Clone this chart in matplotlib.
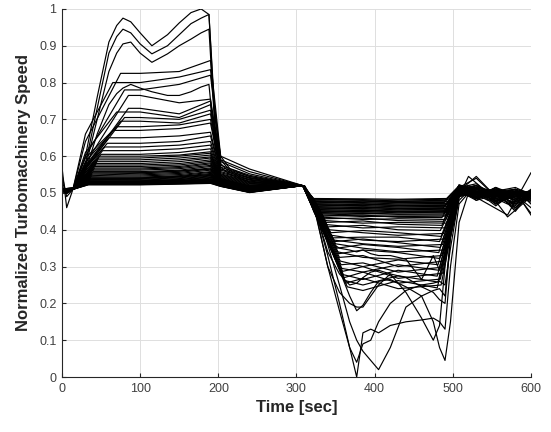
import matplotlib.pyplot as plt

plt.rcParams['font.family'] = ['Liberation Sans', 'DejaVu Sans']

# ---------------- band runs ----------------
# phase 1 (speed-up), values per run
start0 = [0.510, 0.512, 0.508, 0.510, 0.515, 0.570, 0.510, 0.505, 0.512, 0.510,
          0.508, 0.510, 0.550, 0.512, 0.510, 0.505, 0.510, 0.512, 0.508, 0.510,
          0.515, 0.510, 0.508, 0.512, 0.510, 0.505, 0.510, 0.512, 0.510, 0.508,
          0.530, 0.510, 0.512, 0.508, 0.510, 0.505, 0.510, 0.512, 0.510, 0.508,
          0.510, 0.512, 0.508, 0.510, 0.505, 0.510, 0.512, 0.510, 0.508, 0.510]
start1 = [0.505, 0.508, 0.505, 0.510, 0.505, 0.460, 0.505, 0.500, 0.508, 0.505,
          0.505, 0.508, 0.490, 0.505, 0.510, 0.500, 0.505, 0.508, 0.505, 0.505,
          0.510, 0.505, 0.500, 0.508, 0.505, 0.500, 0.505, 0.508, 0.505, 0.505,
          0.500, 0.505, 0.508, 0.500, 0.505, 0.500, 0.505, 0.508, 0.505, 0.500,
          0.505, 0.508, 0.500, 0.505, 0.500, 0.505, 0.508, 0.505, 0.500, 0.505]
hi_knee = [0.640, 0.660, 0.600, 0.580, 0.570, 0.610, 0.565, 0.575, 0.585, 0.595,
           0.570, 0.565, 0.570, 0.560, 0.555, 0.560, 0.550, 0.555, 0.550, 0.548,
           0.546, 0.544, 0.548, 0.542, 0.540, 0.542, 0.538, 0.537, 0.536, 0.535,
           0.534, 0.533, 0.532, 0.531, 0.530, 0.529, 0.528, 0.527, 0.527, 0.526,
           0.525, 0.524, 0.524, 0.523, 0.523, 0.522, 0.522, 0.521, 0.520, 0.520]
hi_rise = [75, 65, 80, 85, 85, 70, 80, 75, 70, 65,
           60, 58, 55, 52, 50, 48, 47, 46, 45, 44,
           43, 42, 42, 41, 40, 40, 39, 39, 38, 38,
           37, 37, 36, 36, 36, 35, 35, 35, 35, 34,
           34, 34, 34, 34, 34, 34, 34, 34, 34, 34]
hi_level = [0.825, 0.800, 0.780, 0.765, 0.730, 0.720, 0.705, 0.695, 0.680, 0.670,
            0.650, 0.635, 0.625, 0.615, 0.605, 0.600, 0.595, 0.590, 0.585, 0.580,
            0.576, 0.572, 0.568, 0.565, 0.562, 0.558, 0.555, 0.552, 0.549, 0.546,
            0.543, 0.541, 0.539, 0.537, 0.535, 0.533, 0.532, 0.531, 0.530, 0.529,
            0.528, 0.527, 0.527, 0.526, 0.526, 0.525, 0.525, 0.524, 0.523, 0.522]
hi_sag = [0.830, 0.815, 0.795, 0.745, 0.715, 0.705, 0.700, 0.690, 0.685, 0.675,
          0.655, 0.640, 0.630, 0.620, 0.610, 0.603, 0.600, 0.595, 0.590, 0.585,
          0.580, 0.576, 0.572, 0.569, 0.566, 0.562, 0.559, 0.556, 0.553, 0.550,
          0.547, 0.545, 0.543, 0.541, 0.539, 0.537, 0.536, 0.534, 0.533, 0.532,
          0.531, 0.530, 0.529, 0.529, 0.528, 0.528, 0.527, 0.526, 0.525, 0.524]
hi_final = [0.860, 0.835, 0.820, 0.755, 0.750, 0.740, 0.725, 0.715, 0.700, 0.690,
            0.665, 0.655, 0.640, 0.630, 0.620, 0.612, 0.608, 0.603, 0.598, 0.595,
            0.590, 0.586, 0.582, 0.579, 0.575, 0.572, 0.568, 0.565, 0.562, 0.558,
            0.556, 0.553, 0.550, 0.548, 0.546, 0.544, 0.542, 0.540, 0.538, 0.536,
            0.535, 0.534, 0.533, 0.532, 0.531, 0.530, 0.529, 0.528, 0.527, 0.526]
tail_a = [0.600, 0.590, 0.585, 0.575, 0.570, 0.565, 0.562, 0.558, 0.555, 0.552,
          0.550, 0.548, 0.546, 0.544, 0.542, 0.540, 0.539, 0.538, 0.537, 0.536,
          0.535, 0.534, 0.533, 0.532, 0.531, 0.530, 0.530, 0.529, 0.528, 0.528,
          0.527, 0.527, 0.526, 0.526, 0.525, 0.525, 0.524, 0.524, 0.523, 0.523,
          0.522, 0.522, 0.521, 0.521, 0.520, 0.520, 0.519, 0.519, 0.518, 0.518]
tail_b = [0.565, 0.558, 0.552, 0.548, 0.545, 0.542, 0.540, 0.537, 0.535, 0.532,
          0.530, 0.528, 0.526, 0.524, 0.522, 0.520, 0.519, 0.518, 0.517, 0.516,
          0.515, 0.514, 0.513, 0.512, 0.512, 0.511, 0.511, 0.510, 0.510, 0.509,
          0.509, 0.508, 0.508, 0.507, 0.507, 0.506, 0.506, 0.505, 0.505, 0.505,
          0.504, 0.504, 0.504, 0.503, 0.503, 0.503, 0.502, 0.502, 0.502, 0.501]

# phase 2 (slow-down), values per run
lo_reach = [322, 322, 323, 323, 324, 324, 325, 325, 326, 326,
            327, 327, 328, 328, 329, 329, 330, 330, 331, 331,
            332, 332, 333, 334, 335, 336, 337, 338, 339, 340,
            342, 344, 345, 346, 348, 349, 350, 352, 353, 354,
            355, 356, 357, 358, 359, 360, 361, 362, 363, 365]
lo_level = [0.485, 0.483, 0.481, 0.479, 0.477, 0.475, 0.473, 0.471, 0.469, 0.467,
            0.465, 0.463, 0.461, 0.459, 0.457, 0.455, 0.453, 0.451, 0.449, 0.447,
            0.445, 0.443, 0.440, 0.437, 0.434, 0.430, 0.425, 0.420, 0.414, 0.408,
            0.400, 0.392, 0.385, 0.378, 0.372, 0.368, 0.362, 0.350, 0.340, 0.335,
            0.325, 0.315, 0.305, 0.295, 0.287, 0.278, 0.270, 0.262, 0.255, 0.245]
lo_bump = [0.484, 0.480, 0.482, 0.476, 0.478, 0.472, 0.474, 0.468, 0.470, 0.464,
           0.466, 0.460, 0.462, 0.456, 0.458, 0.452, 0.454, 0.448, 0.450, 0.444,
           0.446, 0.440, 0.436, 0.440, 0.428, 0.432, 0.418, 0.424, 0.405, 0.412,
           0.392, 0.398, 0.372, 0.380, 0.362, 0.375, 0.350, 0.360, 0.325, 0.345,
           0.330, 0.300, 0.310, 0.285, 0.300, 0.265, 0.285, 0.250, 0.268, 0.235]
lo_mid = [0.483, 0.481, 0.478, 0.477, 0.474, 0.474, 0.470, 0.470, 0.466, 0.466,
          0.462, 0.462, 0.458, 0.458, 0.454, 0.454, 0.450, 0.450, 0.446, 0.446,
          0.442, 0.440, 0.436, 0.434, 0.430, 0.425, 0.420, 0.415, 0.408, 0.400,
          0.385, 0.392, 0.368, 0.380, 0.355, 0.365, 0.340, 0.352, 0.320, 0.338,
          0.300, 0.318, 0.285, 0.305, 0.268, 0.290, 0.255, 0.275, 0.240, 0.262]
lo_final = [0.485, 0.483, 0.480, 0.478, 0.476, 0.474, 0.472, 0.470, 0.468, 0.466,
            0.464, 0.462, 0.460, 0.458, 0.456, 0.454, 0.452, 0.450, 0.448, 0.446,
            0.443, 0.440, 0.437, 0.433, 0.428, 0.423, 0.418, 0.412, 0.405, 0.398,
            0.390, 0.382, 0.375, 0.368, 0.360, 0.352, 0.345, 0.338, 0.330, 0.322,
            0.315, 0.305, 0.298, 0.290, 0.282, 0.274, 0.266, 0.258, 0.250, 0.242]
lo_exit = [492, 495, 490, 497, 493, 489, 496, 491, 494, 490,
           495, 492, 488, 496, 491, 493, 489, 494, 490, 492,
           488, 493, 490, 486, 491, 488, 492, 486, 490, 484,
           488, 485, 490, 483, 487, 484, 489, 482, 486, 483,
           488, 481, 485, 482, 487, 480, 484, 481, 485, 480]
end_a = [0.520, 0.515, 0.510, 0.522, 0.505, 0.518, 0.512, 0.508, 0.520, 0.515,
         0.510, 0.518, 0.505, 0.512, 0.520, 0.508, 0.515, 0.510, 0.522, 0.505,
         0.515, 0.510, 0.518, 0.505, 0.512, 0.520, 0.508, 0.515, 0.510, 0.500,
         0.518, 0.505, 0.512, 0.495, 0.515, 0.508, 0.500, 0.512, 0.505, 0.498,
         0.510, 0.500, 0.505, 0.495, 0.508, 0.498, 0.502, 0.495, 0.500, 0.490]
end_b = [0.510, 0.490, 0.520, 0.500, 0.545, 0.485, 0.515, 0.505, 0.495, 0.525,
         0.500, 0.480, 0.512, 0.495, 0.505, 0.520, 0.490, 0.500, 0.510, 0.485,
         0.540, 0.495, 0.505, 0.515, 0.490, 0.500, 0.520, 0.485, 0.505, 0.495,
         0.510, 0.500, 0.490, 0.515, 0.485, 0.505, 0.495, 0.520, 0.500, 0.490,
         0.505, 0.515, 0.480, 0.500, 0.510, 0.490, 0.505, 0.495, 0.485, 0.500]
end_c = [0.495, 0.510, 0.480, 0.505, 0.490, 0.515, 0.470, 0.500, 0.510, 0.485,
         0.505, 0.495, 0.475, 0.510, 0.490, 0.500, 0.515, 0.480, 0.495, 0.505,
         0.490, 0.510, 0.465, 0.500, 0.505, 0.485, 0.495, 0.510, 0.478, 0.500,
         0.490, 0.505, 0.515, 0.470, 0.500, 0.495, 0.510, 0.480, 0.505, 0.490,
         0.500, 0.475, 0.510, 0.495, 0.485, 0.505, 0.470, 0.500, 0.495, 0.510]
end_d = [0.505, 0.480, 0.500, 0.465, 0.510, 0.495, 0.505, 0.455, 0.500, 0.490,
         0.515, 0.470, 0.500, 0.495, 0.505, 0.480, 0.460, 0.500, 0.510, 0.490,
         0.500, 0.475, 0.505, 0.495, 0.450, 0.500, 0.510, 0.485, 0.500, 0.470,
         0.505, 0.495, 0.480, 0.500, 0.510, 0.460, 0.500, 0.490, 0.505, 0.475,
         0.495, 0.505, 0.485, 0.500, 0.470, 0.510, 0.495, 0.480, 0.500, 0.490]
end_e = [0.500, 0.495, 0.485, 0.505, 0.470, 0.500, 0.490, 0.505, 0.445, 0.500,
         0.495, 0.505, 0.480, 0.500, 0.490, 0.510, 0.500, 0.475, 0.500, 0.505,
         0.490, 0.500, 0.495, 0.460, 0.505, 0.490, 0.500, 0.495, 0.505, 0.485,
         0.500, 0.490, 0.505, 0.500, 0.480, 0.495, 0.505, 0.500, 0.440, 0.500,
         0.490, 0.500, 0.505, 0.495, 0.500, 0.485, 0.500, 0.505, 0.490, 0.500]

# ---------------- individual runs ----------------
# phase 1 of the high-overshoot runs
wave_t = [0, 15, 30, 45, 60, 70, 78, 88, 100, 115, 135, 150, 165, 178, 188, 196, 203, 215, 240, 305]
wave1 = [.510, .515, .600, .760, .910, .955, .975, .965, .935, .900, .930, .962, .990, 1.00, .985, .700, .600, .565, .545, .520]
wave2 = [.505, .510, .580, .730, .880, .925, .945, .935, .905, .878, .900, .930, .960, .975, .985, .680, .590, .560, .540, .520]
wave3 = [.510, .512, .570, .700, .830, .880, .905, .910, .880, .855, .878, .900, .918, .935, .945, .660, .580, .555, .535, .520]
wave4 = [.510, .515, .560, .660, .740, .770, .785, .795, .785, .775, .765, .765, .775, .788, .795, .620, .570, .550, .530, .520]
gen_t = [0, 6, 14, 30, 100, 150, 190, 203, 240, 305]
gen1 = [.510, .505, .510, .535, .540, .545, .550, .530, .510, .520]
gen2 = [.512, .508, .510, .545, .555, .560, .565, .535, .505, .520]
gen3 = [.508, .500, .510, .530, .532, .534, .536, .525, .505, .520]

# phase 2 of the deep-drop runs
deep_t = [310, 322, 340, 355, 368, 377, 385, 395, 405, 420, 440, 460, 475, 483, 490, 497, 508, 520, 545, 570, 600]
deep1 = [.520, .470, .330, .200, .080, .000, .120, .130, .120, .140, .150, .155, .160, .150, .130, .300, .470, .500, .490, .495, .500]
deep2 = [.520, .480, .360, .250, .150, .100, .070, .045, .020, .080, .190, .220, .235, .240, .220, .380, .480, .505, .495, .470, .490]
deep3 = [.520, .480, .370, .290, .220, .180, .195, .230, .260, .265, .245, .220, .150, .080, .045, .150, .420, .500, .510, .490, .480]
deep4 = [.520, .465, .300, .180, .080, .040, .090, .100, .150, .200, .235, .250, .255, .260, .250, .350, .490, .505, .480, .500, .495]
deep5 = [.520, .470, .340, .280, .250, .255, .270, .285, .290, .280, .230, .160, .100, .140, .300, .420, .490, .545, .500, .485, .505]
deep6 = [.520, .470, .300, .230, .200, .190, .190, .220, .250, .280, .270, .245, .230, .210, .200, .380, .490, .500, .470, .440, .555]
deep7 = [.520, .450, .370, .350, .345, .340, .345, .335, .330, .330, .320, .265, .330, .290, .330, .420, .500, .520, .505, .435, .490]

fig = plt.figure(figsize=(5.51, 4.32), dpi=100)
ax = fig.add_axes([0.1125, 0.1273, 0.8512, 0.852])

lw = 0.85
for i in range(len(hi_level)):
    t = [0, 6, 14, 30, hi_rise[i], 100, 150, 190, 203, 240, 308,
         lo_reach[i], 385, 430, lo_exit[i], 508, 530, 555, 580, 600]
    y = [start0[i], start1[i], 0.51, hi_knee[i], hi_level[i], hi_level[i], hi_sag[i],
         hi_final[i], tail_a[i], tail_b[i], 0.52,
         lo_level[i], lo_bump[i], lo_mid[i], lo_final[i],
         end_a[i], end_b[i], end_c[i], end_d[i], end_e[i]]
    ax.plot(t, y, color='k', lw=lw)

first = [(wave_t, wave1), (wave_t, wave2), (wave_t, wave3), (wave_t, wave4),
         (gen_t, gen1), (gen_t, gen2), (gen_t, gen3)]
second = [deep1, deep2, deep3, deep4, deep5, deep6, deep7]
for (t1, y1), y2 in zip(first, second):
    ax.plot(list(t1) + deep_t, list(y1) + y2, color='k', lw=lw)

ax.set_xlim(0, 600)
ax.set_ylim(0, 1)
ax.set_xticks(range(0, 601, 100))
ax.set_yticks([i / 10 for i in range(11)])
ax.set_yticklabels(['0', '0.1', '0.2', '0.3', '0.4', '0.5', '0.6', '0.7', '0.8', '0.9', '1'])
ax.grid(True, color='#dedede', lw=0.7)
ax.set_axisbelow(True)
for s in ['top', 'right']:
    ax.spines[s].set_visible(False)
for s in ['left', 'bottom']:
    ax.spines[s].set_color('#262626')
    ax.spines[s].set_linewidth(0.8)
ax.tick_params(direction='in', length=3, width=0.8, color='#262626',
               labelsize=9, labelcolor='#404040', pad=4)
ax.set_xlabel('Time [sec]', fontsize=12, fontweight='bold', color='#262626', labelpad=4)
ax.set_ylabel('Normalized Turbomachinery Speed', fontsize=12, fontweight='bold',
              color='#262626', labelpad=6)

fig.savefig('out.png', dpi=100)
